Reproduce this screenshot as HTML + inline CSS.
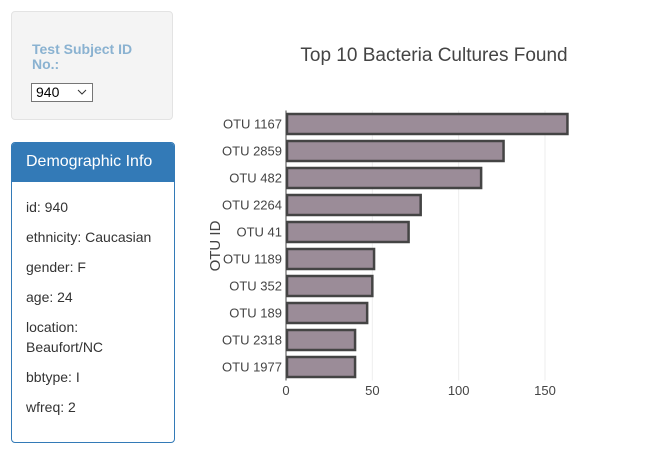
<!DOCTYPE html>
<html><head><meta charset="utf-8"><style>
body{margin:0;width:651px;height:466px;background:#fff;font-family:"Liberation Sans",Arial,sans-serif;position:relative;overflow:hidden}
.well{position:absolute;left:11px;top:11px;width:162px;height:109px;background:#f4f4f4;border:1px solid #e3e3e3;border-radius:4px;box-sizing:border-box}
.lbl{position:absolute;left:20px;top:30px;font-size:14px;font-weight:bold;color:#8ab2d1;line-height:15px;width:130px}
.sel{position:absolute;left:19px;top:71px;width:62px;height:19px;border:1px solid #767676;background:#fff;box-sizing:border-box;font-size:14px;line-height:17px;padding-left:4px;color:#000}
.panel{position:absolute;left:11px;top:142px;width:164px;height:301px;border:1px solid #337ab7;border-radius:4px;box-sizing:border-box;overflow:hidden}
.head{background:#337ab7;color:#fff;font-size:16px;height:39px;line-height:37px;padding-left:14px}
.item{position:absolute;left:14px;font-size:14px;color:#333;line-height:20px}
</style></head><body>
<div class="well">
<div class="lbl">Test Subject ID No.:</div>
<div class="sel">940<svg style="position:absolute;right:5px;top:5px" width="10" height="7"><path d="M1 1 L5 5 L9 1" fill="none" stroke="#333" stroke-width="1"/></svg></div>
</div>
<div class="panel">
<div class="head">Demographic Info</div>
<div class="item" style="top:54px">id: 940</div>
<div class="item" style="top:84px">ethnicity: Caucasian</div>
<div class="item" style="top:114px">gender: F</div>
<div class="item" style="top:144px">age: 24</div>
<div class="item" style="top:174px">location:<br>Beaufort/NC</div>
<div class="item" style="top:224px">bbtype: I</div>
<div class="item" style="top:254px">wfreq: 2</div>
</div>
<svg id="chart" style="position:absolute;left:0;top:0" width="651" height="466"></svg>
<script>
const categories=["OTU 1167","OTU 2859","OTU 482","OTU 2264","OTU 41","OTU 1189","OTU 352","OTU 189","OTU 2318","OTU 1977"];
const values=[163,126,113,78,71,51,50,47,40,40];
const xTicks=[0,50,100,150];
const NS="http://www.w3.org/2000/svg";
const svg=document.getElementById('chart');
const x0=286,xs=259/150,top0=110.5,band=27;
const X=v=>x0+v*xs;
const Y=i=>top0+i*band;
function mk(t,a){const e=document.createElementNS(NS,t);for(const k in a)e.setAttribute(k,a[k]);svg.appendChild(e);return e;}
xTicks.forEach(t=>{
 if(t>0){const g=mk('line',{x1:X(t),x2:X(t),y1:top0,y2:top0+band*10,stroke:'#eee'});
 
 }
 const l=mk('text',{x:X(t),y:395,'text-anchor':'middle','font-size':13,fill:'#444','font-family':'Liberation Sans,sans-serif'});
 l.textContent=t;
 
 
});
categories.forEach((c,i)=>{
 const r=mk('rect',{x:X(0)+1,y:Y(i)+3.5,width:X(values[i])-X(0)-1,height:band-7,fill:'#9b8c98',stroke:'#444','stroke-width':2.5});
 
 
 const t=mk('text',{x:282,y:Y(i)+band/2+4.5,'text-anchor':'end','font-size':13,fill:'#444','font-family':'Liberation Sans,sans-serif'});
 t.textContent=c;
 
 
});
const ax=mk('line',{x1:x0,x2:x0,y1:top0,y2:top0+band*10,stroke:'#444','stroke-width':1});


const yt=mk('text',{x:220,y:246,'text-anchor':'middle','font-size':15,fill:'#444','font-family':'Liberation Sans,sans-serif',transform:'rotate(-90 220 246)'});
yt.textContent='OTU ID';


const ti=mk('text',{x:434,y:61,'text-anchor':'middle','font-size':19,fill:'#444','font-family':'Liberation Sans,sans-serif'});
ti.textContent='Top 10 Bacteria Cultures Found';


</script>
</body></html>
